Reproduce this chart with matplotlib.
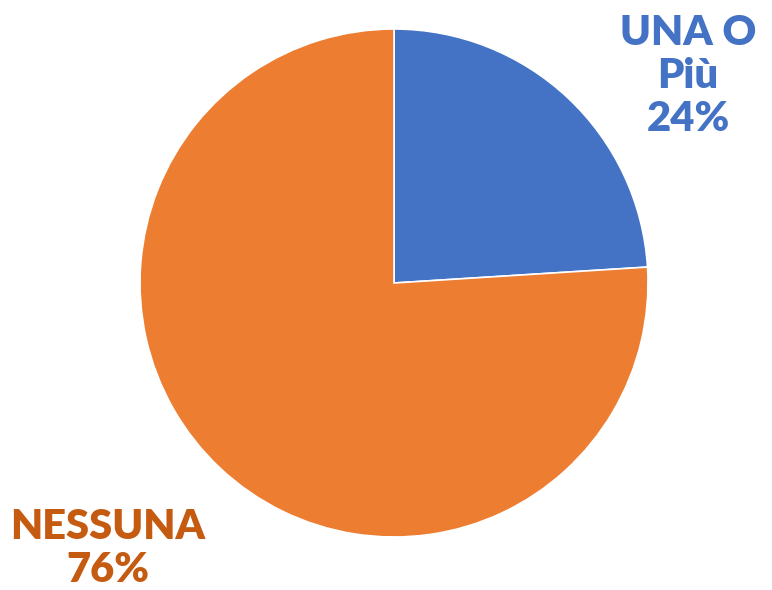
import matplotlib
matplotlib.use("Agg")
import matplotlib.pyplot as plt

categories = ["UNA O\nPiù", "NESSUNA"]
values = [24, 76]
colors = ["#4472C4", "#ED7D31"]
label_colors = ["#4472C4", "#C55A11"]

W, H = 772, 590
fig = plt.figure(figsize=(W / 100, H / 100), dpi=100)
cx, cy, r = 394, 283, 254
ax = fig.add_axes([(cx - r) / W, (H - cy - r) / H, 2 * r / W, 2 * r / H])
ax.pie(values, colors=colors, startangle=90, counterclock=False, radius=1,
       wedgeprops=dict(edgecolor="white", linewidth=1.2))
ax.set_xlim(-1, 1)
ax.set_ylim(-1, 1)
ax.set_aspect("equal")
ax.axis("off")

pos = [(1.157, 0.815), (-1.126, -1.045)]
for cat, v, c, (x, y) in zip(categories, values, label_colors, pos):
    ax.text(x, y, f"{cat}\n{v}%", ha="center", va="center", color=c,
            fontsize=30, fontweight="heavy", family=["Lato", "DejaVu Sans"],
            linespacing=1.17, clip_on=False)

fig.savefig("out.png", dpi=100)
